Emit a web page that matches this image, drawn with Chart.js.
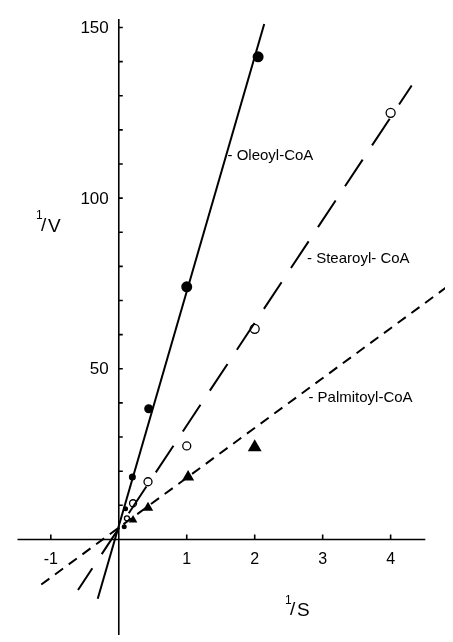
<!DOCTYPE html>
<html>
<head>
<meta charset="utf-8">
<script src="https://cdn.jsdelivr.net/npm/chart.js@4"></script>
<style>
  html, body { margin: 0; padding: 0; background: #fff; }
  canvas { display: block; }
</style>
</head>
<body>
<canvas id="chart" width="453" height="642"></canvas>
<script>
// Lineweaver-Burk plot: 1/V vs 1/S for three acyl-CoA substrates

// Data points
const oleoylX = [0.08, 0.1, 0.2, 0.44, 1.0, 2.05];
const oleoylY = [3.7, 9, 18.3, 38.3, 74, 141.4];
const stearoylX = [0.12, 0.21, 0.43, 1.0, 2.0, 4.0];
const stearoylY = [6.2, 10.6, 16.9, 27.4, 61.7, 125];
const palmitoylX = [0.21, 0.43, 1.02, 2.0];
const palmitoylY = [5.7, 9.3, 18.3, 27];

// Fitted line end points (as drawn)
const oleoylLineX = [-0.31, 2.14];
const oleoylLineY = [-17.4, 151];
const stearoylLineX = [-0.6, 4.31];
const stearoylLineY = [-14.8, 133];
const palmitoylLineX = [-1.14, 4.83];
const palmitoylLineY = [-13.2, 74];

// Axes
const xTicks = [-1, 1, 2, 3, 4];
const xTickLabels = ['-1', '1', '2', '3', '4'];
const yTicks = [10, 20, 30, 40, 50, 60, 70, 80, 90, 100, 110, 120, 130, 140, 150];
const yLabelTicks = [50, 100, 150];
const xAxisRange = [-1.49, 4.51];
const yAxisRange = [-28, 152.5];

// Curve labels
const curveLabels = ['- Oleoyl-CoA', '- Stearoyl- CoA', '- Palmitoyl-CoA'];
const curveLabelX = [1.6, 2.77, 2.79];
const curveLabelY = [112.3, 82.3, 41.4];

const FONT = '"Liberation Sans", Arial, sans-serif';

function pts(xs, ys) {
    return xs.map((x, i) => ({ x: x, y: ys[i] }));
}

const axesPlugin = {
    id: 'axesPlugin',
    beforeDatasetsDraw(chart) {
        const ctx = chart.ctx;
        const xs = chart.scales.x;
        const ys = chart.scales.y;
        const x0 = xs.getPixelForValue(0);
        const y0 = ys.getPixelForValue(0);

        ctx.save();
        ctx.strokeStyle = '#000';
        ctx.lineWidth = 1.6;

        // axis lines
        ctx.beginPath();
        ctx.moveTo(xs.getPixelForValue(xAxisRange[0]), y0);
        ctx.lineTo(xs.getPixelForValue(xAxisRange[1]), y0);
        ctx.moveTo(x0, ys.getPixelForValue(yAxisRange[1]));
        ctx.lineTo(x0, ys.getPixelForValue(yAxisRange[0]));
        ctx.stroke();

        // x ticks (upward)
        ctx.beginPath();
        xTicks.forEach(v => {
            const px = xs.getPixelForValue(v);
            ctx.moveTo(px, y0);
            ctx.lineTo(px, y0 - 5);
        });
        // y ticks (to the right)
        yTicks.forEach(v => {
            const py = ys.getPixelForValue(v);
            ctx.moveTo(x0, py);
            ctx.lineTo(x0 + 4, py);
        });
        ctx.stroke();

        // tick labels
        ctx.fillStyle = '#000';
        ctx.font = '16px ' + FONT;
        ctx.textAlign = 'center';
        ctx.textBaseline = 'middle';
        xTicks.forEach((v, i) => {
            ctx.fillText(xTickLabels[i], xs.getPixelForValue(v), y0 + 20);
        });
        ctx.textAlign = 'right';
        ctx.font = '17px ' + FONT;
        yLabelTicks.forEach(v => {
            ctx.fillText(String(v), x0 - 10, ys.getPixelForValue(v) + 1);
        });

        // axis titles: 1/V and 1/S
        ctx.textAlign = 'left';
        ctx.textBaseline = 'alphabetic';
        ctx.font = '12px ' + FONT;
        ctx.fillText('1', 36, 219);
        ctx.font = '19px ' + FONT;
        ctx.fillText('/', 41, 231);
        ctx.fillText('V', 48, 232);

        ctx.font = '12px ' + FONT;
        ctx.fillText('1', 285, 604);
        ctx.font = '19px ' + FONT;
        ctx.fillText('/', 290, 615);
        ctx.fillText('S', 297, 616);

        // curve labels
        ctx.font = '15px ' + FONT;
        ctx.textBaseline = 'middle';
        curveLabels.forEach((t, i) => {
            ctx.fillText(t, xs.getPixelForValue(curveLabelX[i]), ys.getPixelForValue(curveLabelY[i]));
        });
        ctx.restore();
    }
};

new Chart(document.getElementById('chart'), {
    type: 'scatter',
    data: {
        datasets: [
            {
                label: 'Oleoyl-CoA fit',
                type: 'line',
                data: pts(oleoylLineX, oleoylLineY),
                borderColor: '#000',
                borderWidth: 2,
                pointRadius: 0,
                fill: false
            },
            {
                label: 'Stearoyl-CoA fit',
                type: 'line',
                data: pts(stearoylLineX, stearoylLineY),
                borderColor: '#000',
                borderWidth: 2,
                borderDash: [32, 17],
                borderDashOffset: 6,
                pointRadius: 0,
                fill: false
            },
            {
                label: 'Palmitoyl-CoA fit',
                type: 'line',
                data: pts(palmitoylLineX, palmitoylLineY),
                borderColor: '#000',
                borderWidth: 2,
                borderDash: [10, 7],
                pointRadius: 0,
                fill: false
            },
            {
                label: 'Oleoyl-CoA',
                data: pts(oleoylX, oleoylY),
                pointStyle: 'circle',
                pointRadius: [2.5, 2.5, 3.5, 4.5, 5.5, 5.5],
                backgroundColor: '#000',
                borderColor: '#000',
                borderWidth: 0
            },
            {
                label: 'Stearoyl-CoA',
                data: pts(stearoylX, stearoylY),
                pointStyle: 'circle',
                pointRadius: [2.5, 3.5, 4, 4, 4.5, 4.5],
                backgroundColor: '#fff',
                borderColor: '#000',
                borderWidth: 1.3
            },
            {
                label: 'Palmitoyl-CoA',
                data: pts(palmitoylX, palmitoylY),
                pointStyle: 'triangle',
                pointRadius: [5, 6, 7, 8],
                backgroundColor: '#000',
                borderColor: '#000',
                borderWidth: 0
            }
        ]
    },
    options: {
        responsive: false,
        animation: false,
        devicePixelRatio: 1,
        layout: { padding: 0 },
        plugins: {
            legend: { display: false },
            tooltip: { enabled: false },
            title: { display: false }
        },
        scales: {
            x: { type: 'linear', min: -1.63, max: 4.8, display: false },
            y: { type: 'linear', min: -27.7, max: 155.7, display: false }
        }
    },
    plugins: [axesPlugin]
});
</script>
</body>
</html>
